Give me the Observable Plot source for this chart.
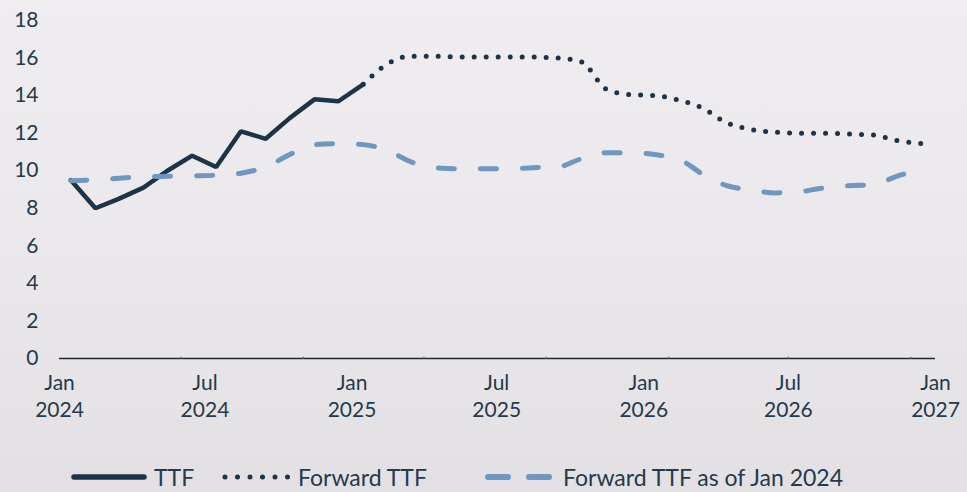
<!DOCTYPE html>
<html>
<head>
<meta charset="utf-8">
<script src="https://cdn.jsdelivr.net/npm/d3@7"></script>
<script src="https://cdn.jsdelivr.net/npm/@observablehq/plot@0.6"></script>
<style>
  html, body { margin: 0; padding: 0; }
  body {
    width: 967px; height: 492px; overflow: hidden; position: relative;
    background: linear-gradient(180deg, #efedef 0%, #ebe9eb 45%, #e3e0e3 100%);
    font-family: Lato, "Open Sans", sans-serif; color: #253a4c;
  }
  #chart { position: absolute; left: 0; top: 0; }
  #legend { position: absolute; left: 0; top: 463px; height: 28px; width: 967px; font-size: 23px; }
  .item { position: absolute; top: 0; display: flex; align-items: center; height: 28px; white-space: nowrap; }
  .item svg { display: block; margin-right: 7px; }
</style>
</head>
<body>
<div id="chart"></div>
<div id="legend">
  <div class="item" style="left:71px"><svg width="76" height="10"><line x1="3" y1="5" x2="73" y2="5" stroke="#1d3347" stroke-width="5.5" stroke-linecap="round"/></svg>TTF</div>
  <div class="item" style="left:221px"><svg width="70" height="10"><line x1="4" y1="5" x2="68" y2="5" stroke="#1d3347" stroke-width="5" stroke-linecap="round" stroke-dasharray="0 12.5"/></svg>Forward TTF</div>
  <div class="item" style="left:484px"><svg width="72" height="10"><line x1="4" y1="5" x2="70" y2="5" stroke="#6f97c2" stroke-width="6" stroke-linecap="round" stroke-dasharray="20 21"/></svg>Forward TTF as of Jan 2024</div>
</div>
<script>
// Monthly values (EUR/MWh), plotted mid-month
const ttfStart = [2024, 0];
const ttfValues = [9.5, 8.0, 8.5, 9.1, 10.0, 10.8, 10.2, 12.1, 11.7, 12.8, 13.8, 13.7, 14.6];

const forwardStart = [2025, 0];
const forwardValues = [14.6, 15.7, 16.1, 16.1, 16.05, 16.05, 16.05, 16.05, 16.0, 15.8, 14.35, 14.05,
                       14.0, 13.75, 13.35, 12.55, 12.2, 12.05, 12.0, 12.0, 11.95, 11.9, 11.6, 11.45];

const forwardJan24Start = [2024, 0];
const forwardJan24Values = [9.47, 9.52, 9.6, 9.68, 9.7, 9.73, 9.76, 9.87, 10.2, 10.86, 11.39, 11.44,
                            11.39, 11.07, 10.48, 10.16, 10.1, 10.1, 10.1, 10.16, 10.2, 10.64, 10.96, 10.96,
                            10.86, 10.59, 9.84, 9.2, 8.98, 8.82, 8.88, 9.09, 9.2, 9.25, 9.73, 10.05];

const tickMonths = ["2024-01", "2024-07", "2025-01", "2025-07", "2026-01", "2026-07", "2027-01"];
const tickMonthLabels = ["Jan", "Jul", "Jan", "Jul", "Jan", "Jul", "Jan"];
const tickYearLabels = ["2024", "2024", "2025", "2025", "2026", "2026", "2027"];
const minorTickMonths = ["2024-06", "2024-11", "2025-04", "2025-09", "2026-02", "2026-07", "2026-12"];
const yTicks = [0, 2, 4, 6, 8, 10, 12, 14, 16, 18];

const ym = s => { const [y, m] = s.split("-").map(Number); return new Date(Date.UTC(y, m - 1, 1)); };
const series = (start, vals) => vals.map((v, i) => ({ date: new Date(Date.UTC(start[0], start[1] + i, 15)), value: v }));

const ttf = series(ttfStart, ttfValues);
const fwd = series(forwardStart, forwardValues);
const fwd24 = series(forwardJan24Start, forwardJan24Values);

const ticks = tickMonths.map(ym);
const monthLabel = new Map(ticks.map((d, i) => [+d, tickMonthLabels[i]]));
const yearLabel = new Map(ticks.map((d, i) => [+d, tickYearLabels[i]]));
const minor = minorTickMonths.map(ym);

const textColor = "#253a4c";

const chart = Plot.plot({
  width: 967,
  height: 441,
  marginLeft: 59,
  marginRight: 32,
  marginTop: 20,
  marginBottom: 83,
  style: { background: "transparent", fontFamily: "Lato, 'Open Sans', sans-serif", color: textColor, overflow: "visible" },
  x: { type: "utc", domain: [ym("2024-01"), ym("2027-01")] },
  y: { domain: [0, 18] },
  marks: [
    Plot.axisY(yTicks, { tickSize: 0, tickPadding: 21, fontSize: 21, fill: textColor, label: null }),
    Plot.axisX(ticks, { tickSize: 0, tickPadding: 17, fontSize: 21, fill: textColor, label: null,
      tickFormat: d => monthLabel.get(+d) }),
    Plot.axisX(ticks, { tickSize: 0, tickPadding: 44, fontSize: 21, fill: textColor, label: null,
      tickFormat: d => yearLabel.get(+d) }),
    Plot.ruleY([0], { stroke: "#20262c", strokeWidth: 1.6 }),
    Plot.ruleX(minor, { x: d => d, y1: -0.05, y2: 0.07, stroke: "#5a636c", strokeWidth: 1.2 }),
    Plot.line(ttf, { x: "date", y: "value", stroke: "#1d3347", strokeWidth: 4.5, strokeLinejoin: "miter" }),
    Plot.line(fwd, { x: "date", y: "value", curve: "monotone-x", stroke: "#1d3347", strokeWidth: 5,
      strokeDasharray: "0 12", strokeLinecap: "round" }),
    Plot.line(fwd24, { x: "date", y: "value", curve: "monotone-x", stroke: "#6f97c2", strokeWidth: 5,
      strokeDasharray: "16 26", strokeLinecap: "round" })
  ]
});
document.getElementById("chart").appendChild(chart);
</script>
</body>
</html>
